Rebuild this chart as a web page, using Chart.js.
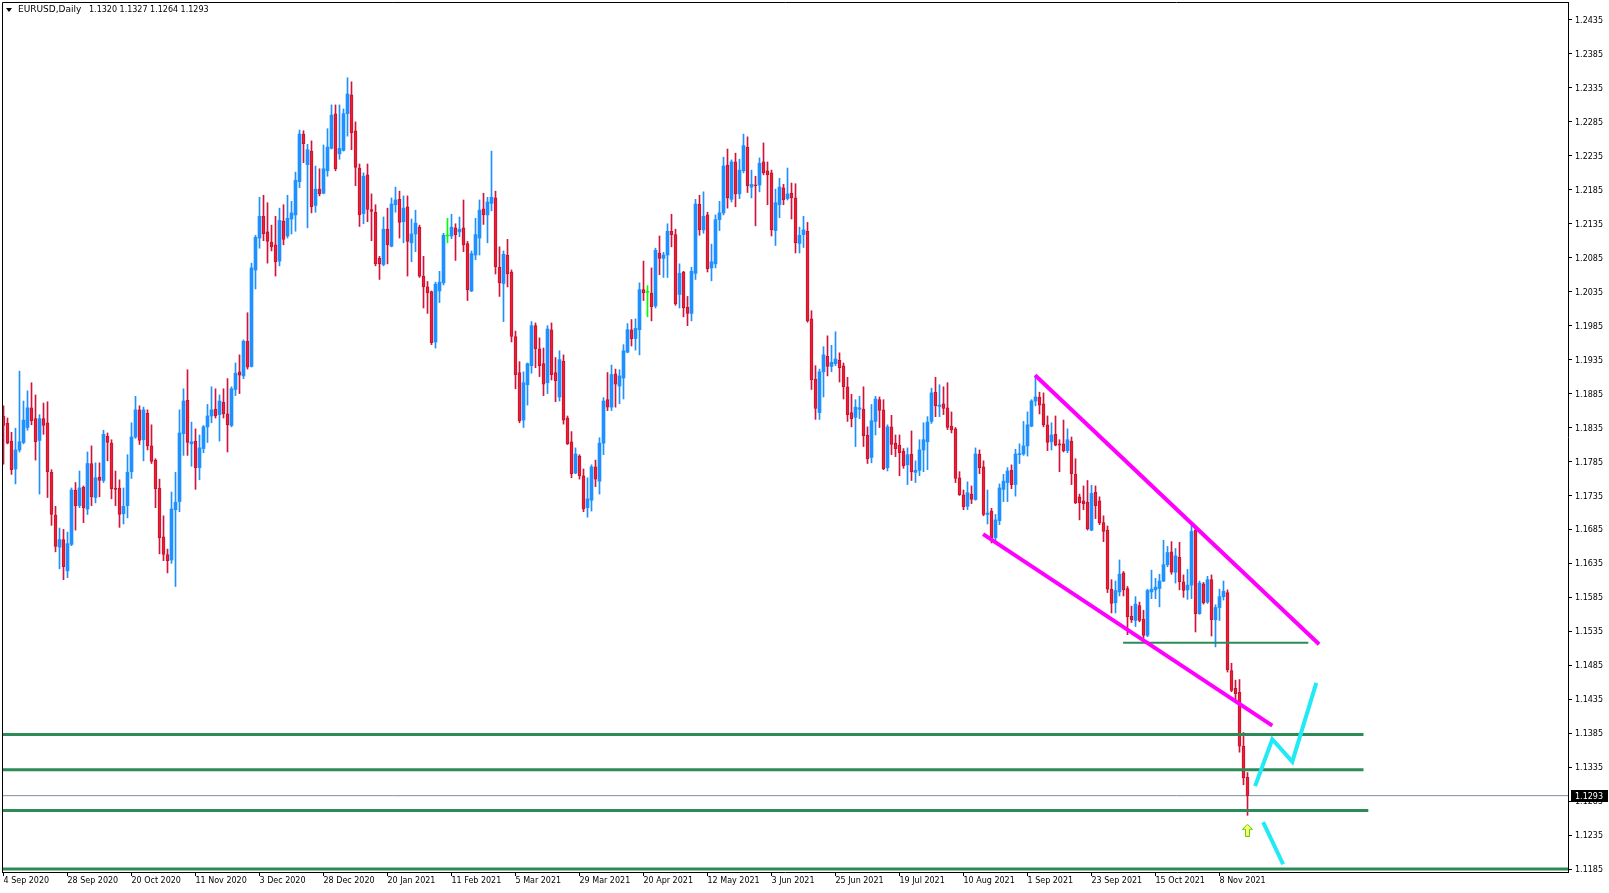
<!DOCTYPE html>
<html>
<head>
<meta charset="utf-8">
<title>EURUSD Daily</title>
<script src="https://cdn.jsdelivr.net/npm/chart.js@4.4.1/dist/chart.umd.min.js"></script>
<style>
  html, body { margin: 0; padding: 0; background: #fff; }
  #wrap { width: 1609px; height: 893px; }
</style>
</head>
<body>
<div id="wrap"><canvas id="chart" width="1609" height="893"></canvas></div>
<script>
"use strict";

// header of the chart window
var symbolTitle = 'EURUSD,Daily';
var headerQuote = '1.1320 1.1327 1.1264 1.1293';

// one label every 16 daily bars, first label = bar 0
var barsPerLabel = 16;
var xTickLabels = ['4 Sep 2020', '28 Sep 2020', '20 Oct 2020', '11 Nov 2020', '3 Dec 2020',
    '28 Dec 2020', '20 Jan 2021', '11 Feb 2021', '5 Mar 2021', '29 Mar 2021', '20 Apr 2021',
    '12 May 2021', '3 Jun 2021', '25 Jun 2021', '19 Jul 2021', '10 Aug 2021', '1 Sep 2021',
    '23 Sep 2021', '15 Oct 2021', '8 Nov 2021'];

var yTicks = [1.1185, 1.1235, 1.1285, 1.1335, 1.1385, 1.1435, 1.1485, 1.1535, 1.1585,
    1.1635, 1.1685, 1.1735, 1.1785, 1.1835, 1.1885, 1.1935, 1.1985, 1.2035, 1.2085,
    1.2135, 1.2185, 1.2235, 1.2285, 1.2335, 1.2385, 1.2435];

// daily candles, 4 Sep 2020 .. 17 Nov 2021
var openP = [
    1.1852,1.1841,1.1815,1.1774,1.1802,1.1813,1.1835,1.1864,1.1848,1.1816,
    1.1848,1.1842,1.1769,1.1706,1.1659,1.1670,1.1624,1.1663,1.1743,1.1720,
    1.1747,1.1715,1.1782,1.1732,1.1762,1.1757,1.1822,1.1812,1.1746,1.1746,
    1.1708,1.1720,1.1770,1.1821,1.1861,1.1817,1.1856,1.1808,1.1787,1.1746,
    1.1674,1.1648,1.1640,1.1714,1.1726,1.1826,1.1875,1.1811,1.1815,1.1776,
    1.1804,1.1836,1.1852,1.1862,1.1854,1.1872,1.1855,1.1838,1.1891,1.1917,
    1.1911,1.1962,1.1925,1.2067,1.2114,1.2146,1.2123,1.2108,1.2104,1.2080,
    1.2139,1.2117,1.2142,1.2148,1.2197,1.2267,1.2222,1.2242,1.2162,1.2186,
    1.2180,1.2213,1.2246,1.2297,1.2238,1.2243,1.2297,1.2325,1.2272,1.2217,
    1.2150,1.2207,1.2156,1.2152,1.2084,1.2075,1.2127,1.2102,1.2163,1.2171,
    1.2138,1.2160,1.2107,1.2120,1.2130,1.2058,1.2042,1.2035,1.1961,1.2036,
    1.2048,1.2117,1.2117,1.2129,1.2123,1.2129,1.2106,1.2036,1.2089,1.2114,
    1.2157,1.2148,1.2165,1.2173,1.2071,1.2047,1.2089,1.2064,1.1969,1.1916,
    1.1846,1.1898,1.1926,1.1985,1.1951,1.1929,1.1901,1.1979,1.1916,1.1880,
    1.1933,1.1849,1.1814,1.1768,1.1793,1.1764,1.1717,1.1728,1.1777,1.1756,
    1.1812,1.1876,1.1865,1.1914,1.1896,1.1908,1.1946,1.1979,1.1966,1.1979,
    1.2038,1.2034,1.2033,1.2014,1.2092,1.2084,1.2089,1.2124,1.2119,1.2031,
    1.2064,1.2012,1.2003,1.2062,1.2164,1.2126,1.2148,1.2070,1.2076,1.2141,
    1.2151,1.2221,1.2171,1.2226,1.2179,1.2213,1.2248,1.2189,1.2192,1.2192,
    1.2226,1.2213,1.2210,1.2125,1.2163,1.2188,1.2172,1.2180,1.2173,1.2106,
    1.2119,1.2124,1.1995,1.1906,1.1857,1.1917,1.1940,1.1925,1.1929,1.1934,
    1.1926,1.1895,1.1857,1.1850,1.1862,1.1862,1.1824,1.1791,1.1844,1.1876,
    1.1861,1.1776,1.1836,1.1812,1.1809,1.1800,1.1780,1.1796,1.1769,1.1772,
    1.1802,1.1814,1.1844,1.1887,1.1866,1.1870,1.1864,1.1837,1.1833,1.1761,
    1.1736,1.1719,1.1737,1.1729,1.1796,1.1777,1.1707,1.1712,1.1673,1.1698,
    1.1744,1.1754,1.1772,1.1751,1.1795,1.1796,1.1808,1.1837,1.1874,1.1880,
    1.1870,1.1839,1.1814,1.1825,1.1811,1.1811,1.1801,1.1815,1.1766,1.1733,
    1.1727,1.1725,1.1684,1.1740,1.1727,1.1695,1.1684,1.1597,1.1577,1.1593,
    1.1621,1.1598,1.1557,1.1551,1.1573,1.1553,1.1529,1.1593,1.1596,1.1598,
    1.1609,1.1633,1.1652,1.1622,1.1644,1.1608,1.1596,1.1603,1.1684,1.1561,
    1.1605,1.1578,1.1611,1.1552,1.1570,1.1586,1.1592,1.1477,1.1451,1.1445,
    1.1366,1.1320];
var highP = [
    1.1867,1.1849,1.1828,1.1834,1.1918,1.1874,1.1889,1.1901,1.1883,1.1854,
    1.1871,1.1873,1.1773,1.1719,1.1687,1.1685,1.1681,1.1746,1.1754,1.1771,
    1.1749,1.1799,1.1808,1.1783,1.1783,1.1831,1.1827,1.1817,1.1771,1.1758,
    1.1746,1.1795,1.1842,1.1881,1.1867,1.1865,1.1861,1.1839,1.1789,1.1759,
    1.1705,1.1656,1.1740,1.1769,1.1861,1.1892,1.1920,1.1843,1.1833,1.1824,
    1.1838,1.1869,1.1895,1.1892,1.1883,1.1892,1.1907,1.1895,1.1930,1.1942,
    1.1964,1.2004,1.2077,1.2118,1.2174,1.2177,1.2166,1.2133,1.2146,1.2158,
    1.2163,1.2177,1.2168,1.2211,1.2273,1.2272,1.2252,1.2257,1.2220,1.2216,
    1.2251,1.2275,1.2310,1.2310,1.2310,1.2304,1.2350,1.2344,1.2285,1.2223,
    1.2210,1.2223,1.2179,1.2163,1.2087,1.2145,1.2158,1.2173,1.2189,1.2183,
    1.2176,1.2176,1.2142,1.2155,1.2133,1.2087,1.2050,1.2036,1.2049,1.2065,
    1.2121,1.2143,1.2149,1.2135,1.2145,1.2170,1.2109,1.2095,1.2143,1.2170,
    1.2180,1.2174,1.2242,1.2183,1.2101,1.2095,1.2112,1.2067,1.1977,1.1932,
    1.1917,1.1930,1.1991,1.1989,1.1967,1.1952,1.1985,1.1989,1.1938,1.1948,
    1.1942,1.1852,1.1829,1.1805,1.1795,1.1774,1.1761,1.1780,1.1787,1.1820,
    1.1879,1.1916,1.1927,1.1921,1.1920,1.1957,1.1988,1.1994,1.1995,1.2048,
    1.2080,1.2044,1.2070,1.2099,1.2117,1.2093,1.2135,1.2149,1.2127,1.2076,
    1.2065,1.2028,1.2071,1.2171,1.2177,1.2182,1.2152,1.2105,1.2148,1.2168,
    1.2233,1.2245,1.2229,1.2239,1.2230,1.2267,1.2263,1.2214,1.2205,1.2232,
    1.2254,1.2226,1.2214,1.2186,1.2202,1.2193,1.2217,1.2195,1.2194,1.2130,
    1.2146,1.2137,1.2007,1.1926,1.1921,1.1954,1.1970,1.1956,1.1976,1.1945,
    1.1930,1.1909,1.1884,1.1876,1.1881,1.1895,1.1836,1.1869,1.1881,1.1880,
    1.1876,1.1839,1.1853,1.1824,1.1824,1.1804,1.1805,1.1830,1.1786,1.1817,
    1.1842,1.1851,1.1893,1.1909,1.1898,1.1895,1.1901,1.1858,1.1835,1.1770,
    1.1743,1.1755,1.1749,1.1805,1.1802,1.1786,1.1743,1.1716,1.1707,1.1752,
    1.1766,1.1776,1.1780,1.1803,1.1811,1.1844,1.1858,1.1876,1.1912,1.1887,
    1.1886,1.1852,1.1842,1.1852,1.1817,1.1846,1.1833,1.1821,1.1789,1.1737,
    1.1749,1.1757,1.1750,1.1749,1.1733,1.1705,1.1690,1.1611,1.1609,1.1640,
    1.1623,1.1601,1.1572,1.1586,1.1578,1.1566,1.1597,1.1625,1.1613,1.1619,
    1.1669,1.1660,1.1667,1.1657,1.1666,1.1618,1.1626,1.1693,1.1687,1.1609,
    1.1607,1.1616,1.1618,1.1574,1.1597,1.1609,1.1596,1.1488,1.1463,1.1464,
    1.1386,1.1327];
var lowP = [
    1.1781,1.1811,1.1766,1.1752,1.1799,1.1811,1.1831,1.1839,1.1787,1.1737,
    1.1825,1.1732,1.1691,1.1652,1.1627,1.1611,1.1614,1.1661,1.1684,1.1717,
    1.1695,1.1707,1.1720,1.1724,1.1733,1.1754,1.1786,1.1730,1.1720,1.1688,
    1.1693,1.1702,1.1760,1.1819,1.1810,1.1786,1.1802,1.1782,1.1717,1.1649,
    1.1639,1.1621,1.1635,1.1601,1.1711,1.1794,1.1794,1.1778,1.1744,1.1758,
    1.1798,1.1813,1.1842,1.1849,1.1815,1.1849,1.1799,1.1836,1.1882,1.1885,
    1.1907,1.1921,1.1924,1.2039,1.2099,1.2110,1.2077,1.2095,1.2058,1.2073,
    1.2104,1.2114,1.2120,1.2124,1.2188,1.2225,1.2129,1.2151,1.2152,1.2176,
    1.2179,1.2205,1.2245,1.2213,1.2230,1.2242,1.2264,1.2244,1.2191,1.2131,
    1.2135,1.2138,1.2110,1.2073,1.2053,1.2073,1.2076,1.2101,1.2152,1.2114,
    1.2107,1.2058,1.2079,1.2094,1.2056,1.2011,1.2003,1.1957,1.1952,1.2019,
    1.2045,1.2107,1.2113,1.2081,1.2116,1.2094,1.2022,1.2035,1.2082,1.2089,
    1.2134,1.2107,1.2154,1.2061,1.2028,1.1991,1.2042,1.1961,1.1892,1.1842,
    1.1835,1.1868,1.1915,1.1923,1.1910,1.1882,1.1885,1.1905,1.1873,1.1874,
    1.1840,1.1810,1.1761,1.1767,1.1759,1.1711,1.1703,1.1712,1.1748,1.1737,
    1.1795,1.1860,1.1860,1.1865,1.1870,1.1877,1.1945,1.1955,1.1949,1.1942,
    1.2022,1.1998,1.1992,1.2011,1.2060,1.2056,1.2056,1.2101,1.2015,1.2011,
    1.1998,1.1985,1.1992,1.2053,1.2118,1.2121,1.2064,1.2051,1.2070,1.2125,
    1.2148,1.2158,1.2167,1.2160,1.2172,1.2210,1.2181,1.2173,1.2132,1.2182,
    1.2207,1.2163,1.2117,1.2103,1.2144,1.2163,1.2170,1.2142,1.2092,1.2092,
    1.2100,1.1990,1.1891,1.1847,1.1847,1.1880,1.1911,1.1917,1.1926,1.1902,
    1.1877,1.1844,1.1836,1.1807,1.1848,1.1807,1.1782,1.1783,1.1824,1.1835,
    1.1773,1.1771,1.1795,1.1792,1.1764,1.1775,1.1751,1.1757,1.1754,1.1764,
    1.1770,1.1773,1.1841,1.1851,1.1851,1.1854,1.1832,1.1827,1.1754,1.1735,
    1.1714,1.1714,1.1723,1.1728,1.1767,1.1705,1.1693,1.1665,1.1665,1.1692,
    1.1726,1.1726,1.1745,1.1734,1.1782,1.1794,1.1793,1.1836,1.1867,1.1855,
    1.1836,1.1801,1.1802,1.1808,1.1770,1.1799,1.1798,1.1751,1.1723,1.1699,
    1.1714,1.1684,1.1683,1.1701,1.1692,1.1667,1.1592,1.1562,1.1562,1.1587,
    1.1587,1.1530,1.1548,1.1542,1.1549,1.1525,1.1527,1.1583,1.1583,1.1571,
    1.1608,1.1630,1.1619,1.1606,1.1596,1.1585,1.1582,1.1583,1.1534,1.1560,
    1.1575,1.1576,1.1528,1.1512,1.1551,1.1581,1.1475,1.1446,1.1431,1.1357,
    1.1309,1.1264];
var closeP = [
    1.1838,1.1812,1.1773,1.1802,1.1814,1.1846,1.1864,1.1845,1.1814,1.1848,
    1.1838,1.1770,1.1707,1.1660,1.1670,1.1630,1.1664,1.1743,1.1720,1.1746,
    1.1717,1.1782,1.1733,1.1761,1.1757,1.1825,1.1813,1.1745,1.1744,1.1707,
    1.1719,1.1769,1.1821,1.1861,1.1816,1.1861,1.1808,1.1785,1.1745,1.1673,
    1.1648,1.1639,1.1715,1.1725,1.1827,1.1874,1.1813,1.1814,1.1776,1.1805,
    1.1836,1.1852,1.1861,1.1852,1.1874,1.1855,1.1839,1.1892,1.1915,1.1912,
    1.1962,1.1924,1.2070,1.2115,1.2146,1.2120,1.2109,1.2101,1.2079,1.2140,
    1.2112,1.2143,1.2151,1.2199,1.2267,1.2253,1.2244,1.2160,1.2186,1.2179,
    1.2216,1.2248,1.2295,1.2216,1.2246,1.2297,1.2326,1.2269,1.2218,1.2148,
    1.2205,1.2156,1.2153,1.2076,1.2076,1.2127,1.2104,1.2164,1.2170,1.2137,
    1.2158,1.2109,1.2120,1.2136,1.2058,1.2042,1.2033,1.1960,1.2046,1.2049,
    1.2118,1.2117,1.2130,1.2119,1.2127,1.2104,1.2038,1.2091,1.2119,1.2155,
    1.2148,1.2167,1.2174,1.2072,1.2048,1.2090,1.2061,1.1969,1.1913,1.1845,
    1.1901,1.1929,1.1985,1.1951,1.1926,1.1899,1.1980,1.1913,1.1904,1.1935,
    1.1846,1.1811,1.1767,1.1796,1.1764,1.1715,1.1730,1.1777,1.1759,1.1812,
    1.1874,1.1865,1.1913,1.1899,1.1911,1.1948,1.1979,1.1966,1.1981,1.2038,
    1.2033,1.2034,1.2013,1.2096,1.2084,1.2089,1.2124,1.2119,1.2017,1.2062,
    1.2011,1.2003,1.2065,1.2164,1.2126,1.2146,1.2069,1.2079,1.2141,1.2151,
    1.2220,1.2173,1.2226,1.2179,1.2214,1.2250,1.2191,1.2193,1.2191,1.2224,
    1.2210,1.2207,1.2126,1.2166,1.2189,1.2170,1.2179,1.2173,1.2107,1.2118,
    1.2126,1.1992,1.1905,1.1863,1.1917,1.1942,1.1925,1.1931,1.1936,1.1923,
    1.1895,1.1854,1.1848,1.1865,1.1864,1.1823,1.1789,1.1845,1.1877,1.1860,
    1.1774,1.1836,1.1810,1.1804,1.1798,1.1779,1.1795,1.1770,1.1772,1.1802,
    1.1817,1.1843,1.1886,1.1867,1.1868,1.1863,1.1835,1.1832,1.1760,1.1736,
    1.1718,1.1739,1.1729,1.1796,1.1776,1.1707,1.1709,1.1673,1.1699,1.1746,
    1.1756,1.1771,1.1751,1.1796,1.1796,1.1808,1.1839,1.1874,1.1880,1.1868,
    1.1839,1.1813,1.1824,1.1809,1.1809,1.1801,1.1817,1.1767,1.1724,1.1724,
    1.1723,1.1686,1.1738,1.1720,1.1695,1.1682,1.1597,1.1576,1.1595,1.1619,
    1.1596,1.1556,1.1552,1.1575,1.1551,1.1529,1.1595,1.1597,1.1600,1.1609,
    1.1633,1.1651,1.1622,1.1646,1.1608,1.1595,1.1603,1.1682,1.1561,1.1606,
    1.1577,1.1611,1.1552,1.1570,1.1586,1.1594,1.1478,1.1448,1.1443,1.1366,
    1.1319,1.1293];

// objects drawn on the chart (bar index, price)
var upperChannel = [{x: 257.9, y: 1.1912}, {x: 328.9, y: 1.1516}];
var lowerChannel = [{x: 244.9, y: 1.1678}, {x: 317.2, y: 1.1396}];
var levelPrices = [1.1383, 1.1331, 1.1271];
var levelEnds = [340.0, 340.0, 341.2];
var swingLevel = [{x: 279.9, y: 1.1518}, {x: 326.2, y: 1.1518}];
var floorPrice = 1.1185;
var bullPath = [{x: 312.9, y: 1.1307}, {x: 317.2, y: 1.1376}, {x: 322.2, y: 1.1343}, {x: 328.2, y: 1.1459}];
var bearPath = [{x: 314.9, y: 1.1254}, {x: 319.9, y: 1.1192}];
var arrowMark = [{x: 311, y: 1.1242}];

var xMin = -0.375, xMax = 391.125;
var yMin = 1.11806, yMax = 1.24615;

var bullColor = '#1E90FF';
var bearWick = '#D2143A';
var bearEdge = '#C41230';
var bearFill = '#F21D2E';
var dojiColor = '#00FF00';
var tickFont = { family: '"DejaVu Sans", Tahoma, sans-serif', size: 8 };

function tone(i) {
    if (closeP[i] > openP[i]) return 'bull';
    if (closeP[i] < openP[i]) return 'bear';
    return 'doji';
}

function lineSet(points, color, width, order) {
    return {
        type: 'line',
        data: points,
        borderColor: color,
        borderWidth: width,
        pointRadius: 0,
        fill: false,
        tension: 0,
        borderCapStyle: 'butt',
        order: order
    };
}

function makeArrowIcon() {
    var c = document.createElement('canvas');
    c.width = 11;
    c.height = 13;
    var g = c.getContext('2d');
    g.beginPath();
    g.moveTo(5.5, 0.5);
    g.lineTo(10.5, 5.5);
    g.lineTo(7.5, 5.5);
    g.lineTo(7.5, 12.5);
    g.lineTo(3.5, 12.5);
    g.lineTo(3.5, 5.5);
    g.lineTo(0.5, 5.5);
    g.closePath();
    g.fillStyle = '#FFFF70';
    g.fill();
    g.strokeStyle = '#55D400';
    g.lineWidth = 1;
    g.stroke();
    return c;
}

var idx = openP.map(function (v, i) { return i; });
var last = closeP.length - 1;

var datasets = [
    {
        type: 'bar',
        data: idx.map(function (i) { return { x: i, y: [openP[i], closeP[i]] }; }),
        backgroundColor: function (c) {
            var t = tone(c.dataIndex);
            return t === 'bull' ? bullColor : (t === 'bear' ? bearFill : dojiColor);
        },
        borderColor: function (c) { return tone(c.dataIndex) === 'bear' ? bearEdge : bullColor; },
        borderWidth: function (c) { return tone(c.dataIndex) === 'bear' ? 1 : 0; },
        borderSkipped: false,
        barThickness: 3,
        minBarLength: 1,
        grouped: false,
        order: 3
    },
    {
        type: 'bar',
        data: idx.map(function (i) { return { x: i, y: [lowP[i], highP[i]] }; }),
        backgroundColor: function (c) {
            var t = tone(c.dataIndex);
            return t === 'bull' ? bullColor : (t === 'bear' ? bearWick : dojiColor);
        },
        borderWidth: 0,
        barThickness: 1,
        grouped: false,
        order: 4
    },
    lineSet([{ x: xMin, y: closeP[last] }, { x: xMax, y: closeP[last] }], '#7F8D9C', 1, 5),
    lineSet([{ x: xMin, y: floorPrice }, { x: xMax, y: floorPrice }], '#2E8B57', 3, 2)
];

levelPrices.forEach(function (p, k) {
    datasets.push(lineSet([{ x: xMin, y: p }, { x: levelEnds[k], y: p }], '#2E8B57', 3, 2));
});
datasets.push(lineSet(swingLevel, '#2E8B57', 2, 2));
datasets.push(lineSet(upperChannel, '#FF00FF', 4, 1));
datasets.push(lineSet(lowerChannel, '#FF00FF', 4, 1));
datasets.push(lineSet(bullPath, '#1FEAF5', 4, 1));
datasets.push(lineSet(bearPath, '#1FEAF5', 4, 1));
datasets.push({
    type: 'scatter',
    data: arrowMark,
    pointStyle: makeArrowIcon(),
    pointRadius: 6,
    order: 0
});

var terminalLook = {
    id: 'terminalLook',
    afterDraw: function (chart) {
        var ctx = chart.ctx;
        var a = chart.chartArea;
        ctx.save();
        // frame (left and top)
        ctx.strokeStyle = '#000';
        ctx.lineWidth = 1;
        ctx.beginPath();
        ctx.moveTo(a.left + 0.5, a.bottom);
        ctx.lineTo(a.left + 0.5, a.top + 0.5);
        ctx.lineTo(a.right, a.top + 0.5);
        ctx.stroke();

        // header
        ctx.fillStyle = '#000';
        ctx.beginPath();
        ctx.moveTo(6, 8);
        ctx.lineTo(12, 8);
        ctx.lineTo(9, 12);
        ctx.closePath();
        ctx.fill();
        ctx.textBaseline = 'middle';
        ctx.textAlign = 'left';
        ctx.font = '9px "DejaVu Sans", Tahoma, sans-serif';
        ctx.fillText(symbolTitle, 18, 10);
        ctx.font = '8px "DejaVu Sans", Tahoma, sans-serif';
        ctx.fillText(headerQuote, 89, 10);

        // last price box on the price scale
        var y = Math.round(chart.scales.y.getPixelForValue(closeP[last]));
        ctx.fillStyle = '#000';
        ctx.fillRect(a.right + 3, y - 6, 37, 12);
        ctx.fillStyle = '#fff';
        ctx.fillText(closeP[last].toFixed(4), a.right + 7, y + 1);
        ctx.restore();
    }
};

new Chart(document.getElementById('chart'), {
    type: 'bar',
    data: { datasets: datasets },
    options: {
        responsive: false,
        animation: false,
        devicePixelRatio: 1,
        events: [],
        layout: { autoPadding: false, padding: { top: 2, left: 2, right: 0, bottom: 0 } },
        plugins: {
            legend: { display: false },
            tooltip: { enabled: false },
            title: { display: false }
        },
        scales: {
            x: {
                type: 'linear',
                min: xMin,
                max: xMax,
                offset: false,
                grid: { display: true, drawOnChartArea: false, drawTicks: true, tickLength: 4, color: '#000', offset: false },
                border: { display: true, color: '#000', width: 1 },
                ticks: {
                    autoSkip: false,
                    maxRotation: 0,
                    minRotation: 0,
                    align: 'start',
                    padding: 0,
                    color: '#000',
                    font: tickFont,
                    callback: function (v, k) { return xTickLabels[k]; }
                },
                afterBuildTicks: function (s) {
                    s.ticks = xTickLabels.map(function (t, k) { return { value: k * barsPerLabel }; });
                },
                afterFit: function (s) {
                    s.height = 21;
                    s.paddingLeft = 0;
                    s.paddingRight = 0;
                }
            },
            y: {
                type: 'linear',
                position: 'right',
                min: yMin,
                max: yMax,
                grid: { display: true, drawOnChartArea: false, drawTicks: true, tickLength: 4, color: '#000' },
                border: { display: true, color: '#000', width: 1 },
                ticks: {
                    padding: 3,
                    labelOffset: 1,
                    color: '#000',
                    font: tickFont,
                    callback: function (v) { return v.toFixed(4); }
                },
                afterBuildTicks: function (s) {
                    s.ticks = yTicks.map(function (v) { return { value: v }; });
                },
                afterFit: function (s) {
                    s.width = 41;
                    s.paddingTop = 0;
                    s.paddingBottom = 0;
                }
            }
        }
    },
    plugins: [terminalLook]
});
</script>
</body>
</html>
